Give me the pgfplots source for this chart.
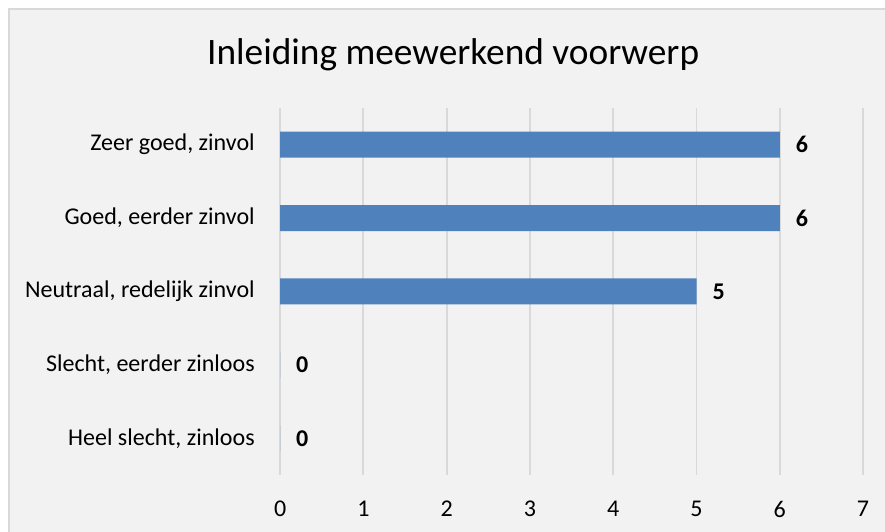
\documentclass[border=0pt]{standalone}
\usepackage{fontspec}
\setmainfont{Carlito}
\usepackage{pgfplots}
\pgfplotsset{compat=1.18}
\definecolor{barblue}{HTML}{4F81BD}
\definecolor{chartbg}{HTML}{F2F2F2}
\definecolor{gridgray}{HTML}{D9D9D9}

\begin{document}
\begin{tikzpicture}
  % 1px = 0.383pt, page 885x531 px
  \fill[white] (0,0) rectangle (339pt,203.4pt);
  \useasboundingbox (0,0) rectangle (339pt,203.4pt);
  \filldraw[fill=chartbg, draw=gridgray, line width=0.77pt] (3.45pt,-10pt) rectangle (360pt,199.95pt);
  \begin{axis}[
    at={(107.3pt,21.45pt)}, anchor=south west,
    scale only axis, width=223.3pt, height=140.6pt,
    xbar, bar width=9.96pt,
    xmin=0, xmax=7, ymin=-0.5, ymax=4.5,
    xtick={0,1,...,7},
    ytick={0,1,2,3,4},
    yticklabels={{Heel slecht, zinloos}, {Slecht, eerder zinloos}, {Neutraal, redelijk zinvol}, {Goed, eerder zinvol}, {Zeer goed, zinvol}},
    /pgf/number format/assume math mode=true,
    tick label style={font=\fontsize{9.2pt}{11pt}\selectfont, text=black},
    xticklabel style={yshift=-6.4pt},
    yticklabel style={xshift=-6.2pt},
    major tick length=0pt,
    axis line style={draw=none},
    xmajorgrids, grid style={gridgray, line width=0.75pt},
    title={Inleiding meewerkend voorwerp},
    title style={at={(rel axis cs:0.2967,1)}, anchor=base, yshift=10.6pt,
      font=\fontsize{14.3pt}{17pt}\selectfont, inner sep=0pt},
    nodes near coords,
    nodes near coords style={font=\fontsize{9.2pt}{11pt}\selectfont\bfseries, xshift=2.6pt,
      /pgf/number format/fixed, /pgf/number format/precision=0},
  ]
  \addplot[fill=barblue, draw=none] coordinates {
    (0,0) (0,1) (5,2) (6,3) (6,4)};
  \end{axis}
\end{tikzpicture}
\end{document}
